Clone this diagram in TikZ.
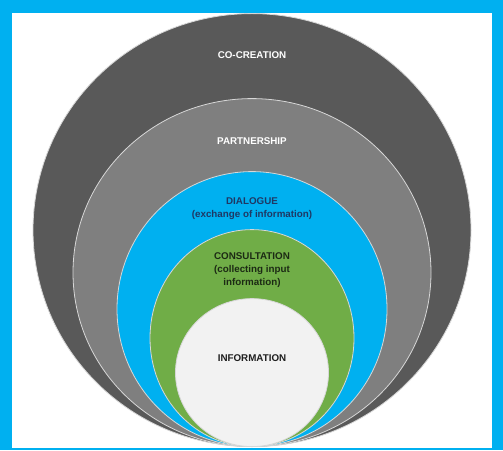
\documentclass[tikz,border=0pt]{standalone}
\usepackage{fontspec}
\setmainfont{Liberation Sans}
\usetikzlibrary{calc, positioning, shapes.geometric}
\definecolor{frameColor}{RGB}{0,176,240}
\definecolor{coCreationColor}{RGB}{89,89,89}
\definecolor{partnershipColor}{RGB}{127,127,127}
\definecolor{dialogueColor}{RGB}{0,176,240}
\definecolor{consultationColor}{RGB}{112,173,71}
\definecolor{informationColor}{RGB}{242,242,242}
\definecolor{ringLine}{RGB}{215,215,215}
\definecolor{navyText}{RGB}{31,56,100}
\definecolor{greenText}{RGB}{28,42,20}
\definecolor{darkText}{RGB}{30,30,30}
\tikzset{ring/.style={ellipse, draw=ringLine, line width=0.8pt, inner sep=0pt, anchor=south}}
\tikzset{ringlabel/.style={align=center, inner sep=0pt, font=\fontsize{9.8}{13}\selectfont\bfseries}}

\begin{document}
\begin{tikzpicture}[x=1pt, y=1pt]
% Frame
\fill[frameColor] (0,0) rectangle (503,450);
\fill[white] (12,2) rectangle (492,437);
\useasboundingbox (0,0) rectangle (503,450);

% Rings, all touching at the bottom
\coordinate (Base) at (252,3);
\node (CoCreation) [ring, fill=coCreationColor, minimum width=438pt, minimum height=433pt] at (Base) {};
\node (Partnership) [ring, fill=partnershipColor, minimum width=358pt, minimum height=348pt] at (Base) {};
\node (Dialogue) [ring, fill=dialogueColor, minimum width=270pt, minimum height=275pt] at (Base) {};
\node (Consultation) [ring, fill=consultationColor, minimum width=204pt, minimum height=217pt] at (Base) {};
\node (Information) [ring, fill=informationColor, minimum width=153pt, minimum height=148pt] at (Base) {};

% Labels
\node (CoCreationText) [ringlabel, text=white] at ($(CoCreation.north)+(0,-42)$) {CO-CREATION};
\node (PartnershipText) [ringlabel, text=white] at ($(Partnership.north)+(0,-43)$) {PARTNERSHIP};
\node (DialogueText) [ringlabel, text=navyText] at ($(Dialogue.north)+(0,-37)$) {DIALOGUE\\(exchange of information)};
\node (ConsultationText) [ringlabel, text=greenText] at ($(Consultation.north)+(0,-41)$) {CONSULTATION\\(collecting input\\information)};
\node (InformationText) [ringlabel, text=darkText] at ($(Information.north)+(0,-60)$) {INFORMATION};

\end{tikzpicture}
\end{document}
